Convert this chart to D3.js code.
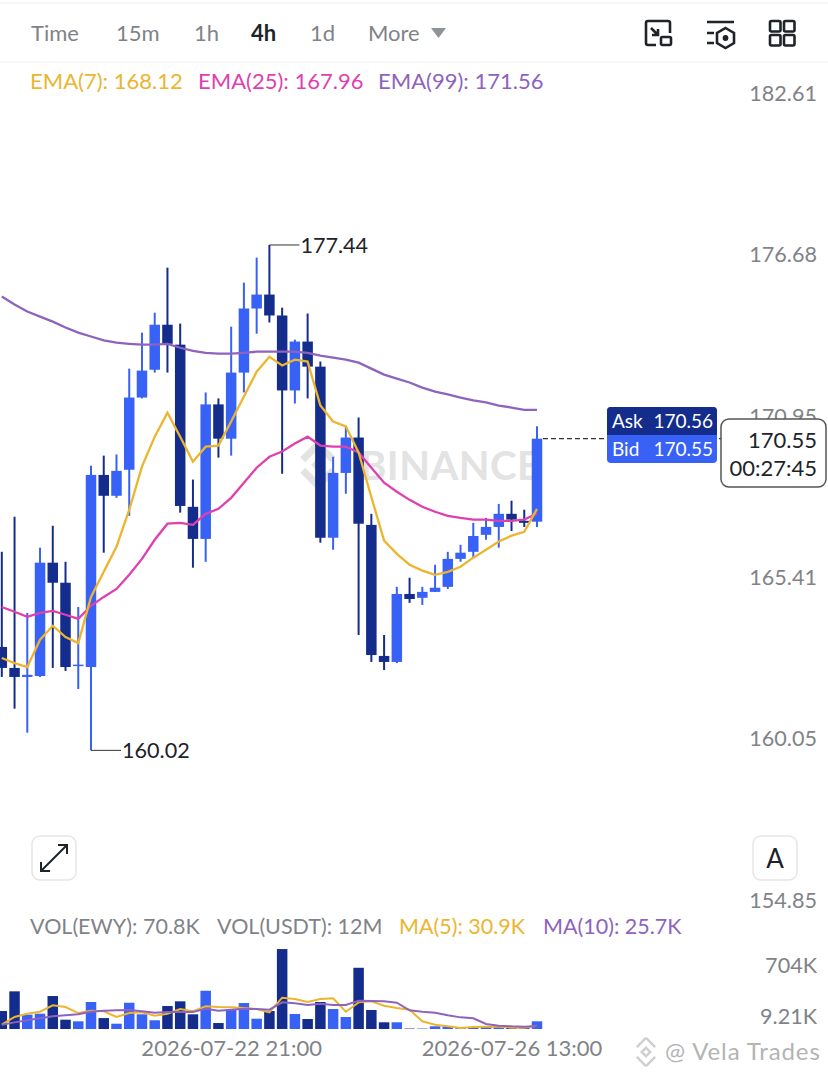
<!DOCTYPE html>
<html lang="en">
  <head>
    <meta charset="UTF-8" />
    <title>EWY 4h</title>
    <script src="https://cdn.jsdelivr.net/npm/d3@7"></script>
    <style>
      * {
        margin: 0;
        padding: 0;
      }
      body {
        background: #fff;
        overflow: hidden;
      }
      svg {
        display: block;
      }
      text {
        font-family: Lato, sans-serif;
      }
    </style>
  </head>
  <body>
    <div id="container"></div>
    <script>
      // 4h candles, oldest first
      const open = [163.44, 162.74, 162.44, 162.47, 166.28, 165.6, 162.81, 162.77, 169.29, 168.57, 169.47, 171.99, 172.97, 174.57, 173.86, 168.19, 167.09, 171.75, 170.55, 172.87, 175.15, 175.65, 174.9, 172.24, 173.97, 173.08, 167.13, 169.36, 170.59, 167.57, 163.14, 162.94, 165.22, 165.09, 165.29, 165.46, 166.41, 166.65, 167.23, 167.5, 167.95, 167.71, 167.68];
      const high = [166.65, 167.85, 164.58, 166.79, 167.54, 166.31, 164.78, 169.61, 169.96, 170.0, 173.01, 174.29, 175.0, 176.62, 174.61, 169.13, 172.17, 171.96, 174.5, 176.08, 176.98, 177.44, 175.18, 174.04, 174.97, 173.26, 169.92, 170.98, 171.29, 167.95, 163.84, 165.46, 165.77, 165.46, 166.21, 166.65, 166.89, 167.64, 167.81, 168.29, 168.4, 168.09, 170.98];
      const low = [162.44, 161.39, 160.6, 162.44, 162.74, 162.64, 162.04, 160.02, 166.62, 168.5, 167.88, 171.96, 172.87, 172.87, 167.99, 166.11, 166.31, 169.89, 169.96, 172.17, 174.25, 174.65, 169.33, 171.78, 171.96, 166.96, 166.72, 168.64, 163.84, 162.94, 162.67, 162.9, 164.92, 164.85, 165.29, 165.39, 166.31, 166.45, 167.06, 166.79, 167.36, 167.5, 167.5];
      const close = [162.74, 162.44, 162.51, 166.28, 165.6, 162.77, 162.85, 169.29, 168.57, 169.43, 171.99, 172.94, 174.57, 173.89, 168.22, 167.09, 171.75, 170.55, 172.87, 175.15, 175.65, 174.9, 172.24, 173.97, 173.08, 167.13, 169.36, 170.59, 167.61, 163.17, 162.94, 165.22, 165.05, 165.29, 165.43, 166.41, 166.62, 167.19, 167.5, 167.95, 167.75, 167.64, 170.55];

      const ema7 = [163.07, 162.9, 162.77, 163.68, 164.15, 163.77, 163.57, 165.12, 165.97, 166.82, 168.09, 169.58, 170.62, 171.46, 170.62, 169.75, 170.27, 170.31, 171.15, 172.03, 172.9, 173.43, 173.12, 173.33, 173.26, 171.71, 171.15, 170.98, 170.07, 168.53, 167.03, 166.58, 166.21, 166.01, 165.87, 165.97, 166.14, 166.45, 166.72, 167.0, 167.2, 167.33, 168.12];
      const ema25 = [164.78, 164.62, 164.45, 164.58, 164.65, 164.52, 164.38, 164.82, 165.12, 165.39, 165.87, 166.41, 167.06, 167.61, 167.64, 167.57, 167.95, 168.12, 168.5, 169.02, 169.54, 169.92, 170.1, 170.38, 170.62, 170.31, 170.27, 170.27, 170.07, 169.54, 169.02, 168.71, 168.43, 168.19, 168.02, 167.88, 167.81, 167.75, 167.75, 167.71, 167.71, 167.75, 167.96];
      const ema99 = [175.58, 175.29, 175.04, 174.86, 174.68, 174.47, 174.29, 174.15, 174.01, 173.93, 173.89, 173.86, 173.86, 173.89, 173.75, 173.64, 173.57, 173.54, 173.54, 173.57, 173.61, 173.61, 173.61, 173.61, 173.57, 173.47, 173.4, 173.33, 173.22, 173.01, 172.8, 172.66, 172.52, 172.34, 172.2, 172.1, 171.99, 171.89, 171.82, 171.71, 171.64, 171.56, 171.56];

      // volume, thousands
      const volume = [241, 505, 192, 205, 442, 125, 103, 362, 147, 71, 352, 197, 117, 308, 371, 197, 513, 80, 268, 348, 138, 241, 1072, 201, 134, 362, 268, 161, 821, 255, 90, 90, 6, 6, 36, 36, 11, 27, 27, 27, 27, 11, 103];
      const ma5 = [58, 161, 205, 232, 317, 295, 214, 246, 237, 161, 214, 223, 179, 205, 268, 237, 304, 295, 290, 281, 268, 223, 420, 402, 362, 402, 411, 232, 357, 371, 313, 281, 259, 103, 58, 36, 13, 27, 31, 31, 18, 18, 45];
      const ma10 = [58, 89, 116, 143, 170, 183, 197, 232, 246, 250, 255, 237, 219, 228, 228, 228, 272, 246, 259, 272, 268, 259, 357, 344, 322, 339, 322, 322, 380, 375, 371, 353, 250, 232, 219, 183, 156, 143, 67, 45, 36, 31, 40];

      const priceTicks = [182.61, 176.68, 170.95, 165.41, 160.05, 154.85];
      const volumeTicks = [704, 9.21];
      const timeTicks = ['2026-07-22T21:00Z', '2026-07-26T13:00Z'];
      const tabs = ['Time', '15m', '1h', '4h', '1d', 'More'];
      const tabX = [31, 116, 194, 251, 310, 368];

      const width = 828;
      const height = 1078;
      const candleWidth = 10.5;
      const gray = '#7f8388';
      const upColor = '#3861f5';
      const downColor = '#142d8c';
      const yellow = '#ecb52e';
      const pink = '#e03fb0';
      const purple = '#8e63be';

      const times = d3.utcHour.range(
        new Date('2026-07-19T21:00Z'),
        new Date('2026-07-26T22:00Z'),
        4
      );
      const candles = times.map((t, i) => ({
        t,
        o: open[i],
        h: high[i],
        l: low[i],
        c: close[i],
        v: volume[i],
      }));
      const colorOf = (d) => (d.c >= d.o ? upColor : downColor);

      const x = d3
        .scaleUtc()
        .domain([times[0], times[times.length - 1]])
        .range([1.8, 537]);
      const y = d3.scaleLog().domain([154.85, 182.61]).range([911, 104.5]);
      const yVol = d3.scaleLinear().domain([0, 704]).range([1029, 976.5]);

      const svg = d3
        .select('#container')
        .append('svg')
        .attr('width', width)
        .attr('height', height);

      // header
      svg
        .append('line')
        .attr('x1', 0)
        .attr('x2', width)
        .attr('y1', 3)
        .attr('y2', 3)
        .attr('stroke', '#eeeeee');
      svg
        .append('line')
        .attr('x1', 0)
        .attr('x2', width)
        .attr('y1', 62)
        .attr('y2', 62)
        .attr('stroke', '#f0f0f0');
      svg
        .append('g')
        .selectAll('text')
        .data(tabs)
        .join('text')
        .attr('x', (d, i) => tabX[i])
        .attr('y', 41)
        .attr('font-size', 22)
        .attr('font-weight', (d) => (d == '4h' ? 700 : 400))
        .attr('fill', (d) => (d == '4h' ? '#1e2329' : gray))
        .text((d) => d);
      svg.append('path').attr('d', 'M431 28H446L438.5 38Z').attr('fill', '#8f9399');

      // toolbar icons
      const icons = svg
        .append('g')
        .attr('fill', 'none')
        .attr('stroke', '#1e2329')
        .attr('stroke-width', 2.6);
      icons.append('path').attr('d', 'M656 45H648Q646 45 646 43V23Q646 21 648 21H668Q670 21 670 23V33');
      icons.append('rect').attr('x', 661).attr('y', 37).attr('width', 10).attr('height', 8).attr('rx', 1.5);
      icons.append('path').attr('d', 'M651 28L658 35M658 29V35H652');
      icons.append('path').attr('d', 'M707 22H734M707 33H714M707 43H714');
      icons.append('path').attr('d', 'M725.5 28L734 33V43L725.5 48L717 43V33Z');
      icons.append('circle').attr('cx', 725.5).attr('cy', 38).attr('r', 1.6).attr('fill', '#1e2329');
      icons
        .selectAll('rect.cell')
        .data([[770, 21], [784, 21], [770, 35], [784, 35]])
        .join('rect')
        .attr('class', 'cell')
        .attr('x', (d) => d[0])
        .attr('y', (d) => d[1])
        .attr('width', 10.5)
        .attr('height', 10.5)
        .attr('rx', 1.5);

      // binance watermark
      const mark = svg.append('g').attr('fill', '#e3e3e3');
      mark
        .append('g')
        .attr('transform', 'translate(318,465) rotate(45)')
        .selectAll('path')
        .data(['M-18 -18H7V-11H-11V7H-18Z', 'M18 18H-7V11H11V-7H18Z', 'M-5 -5H5V5H-5Z'])
        .join('path')
        .attr('d', (d) => d);
      mark
        .append('text')
        .attr('x', 360)
        .attr('y', 480)
        .attr('font-size', 40)
        .attr('font-weight', 700)
        .attr('letter-spacing', 0.5)
        .text('BINANCE');

      // price axis
      const priceAxis = svg
        .append('g')
        .attr('transform', 'translate(817,0)')
        .call(d3.axisLeft(y).tickValues(priceTicks).tickSize(0).tickPadding(0).tickFormat(d3.format('.2f')));
      priceAxis.select('.domain').remove();
      priceAxis
        .selectAll('text')
        .attr('dy', -4)
        .attr('font-size', 21.6)
        .attr('font-family', 'Lato, sans-serif')
        .attr('fill', gray);

      // volume axis
      const volAxis = svg
        .append('g')
        .attr('transform', 'translate(817,0)')
        .call(
          d3
            .axisLeft(yVol)
            .tickValues(volumeTicks)
            .tickSize(0)
            .tickPadding(0)
            .tickFormat((d) => d + 'K')
        );
      volAxis.select('.domain').remove();
      volAxis
        .selectAll('text')
        .attr('dy', -4.5)
        .attr('font-size', 21.6)
        .attr('font-family', 'Lato, sans-serif')
        .attr('fill', gray);

      // time axis
      const timeAxis = svg
        .append('g')
        .attr('transform', 'translate(0,1029)')
        .call(
          d3
            .axisBottom(x)
            .tickValues(timeTicks.map((d) => new Date(d)))
            .tickSize(0)
            .tickPadding(0)
            .tickFormat(d3.utcFormat('%Y-%m-%d %H:%M'))
        );
      timeAxis.select('.domain').remove();
      timeAxis
        .selectAll('text')
        .attr('dy', 27)
        .attr('font-size', 22)
        .attr('font-family', 'Lato, sans-serif')
        .attr('fill', gray);

      // wicks
      svg
        .append('g')
        .selectAll('line')
        .data(candles)
        .join('line')
        .attr('x1', (d) => x(d.t))
        .attr('x2', (d) => x(d.t))
        .attr('y1', (d) => y(d.h))
        .attr('y2', (d) => y(d.l))
        .attr('stroke', colorOf)
        .attr('stroke-width', 2);

      // bodies
      svg
        .append('g')
        .selectAll('rect')
        .data(candles)
        .join('rect')
        .attr('x', (d) => x(d.t) - candleWidth / 2)
        .attr('y', (d) => y(Math.max(d.o, d.c)))
        .attr('width', candleWidth)
        .attr('height', (d) => Math.max(1.5, Math.abs(y(d.o) - y(d.c))))
        .attr('fill', colorOf);

      // ema lines
      const priceLine = d3
        .line()
        .x((d, i) => x(times[i]))
        .y((d) => y(d));
      svg
        .append('g')
        .attr('fill', 'none')
        .attr('stroke-width', 2.3)
        .selectAll('path')
        .data([
          [ema99, purple],
          [ema25, pink],
          [ema7, yellow],
        ])
        .join('path')
        .attr('d', (d) => priceLine(d[0]))
        .attr('stroke', (d) => d[1]);

      // high / low markers
      const iHigh = d3.maxIndex(high);
      const iLow = d3.minIndex(low);
      const markers = [
        [times[iHigh], high[iHigh]],
        [times[iLow], low[iLow]],
      ];
      const markerG = svg.append('g').selectAll('g').data(markers).join('g');
      markerG
        .append('line')
        .attr('x1', (d) => x(d[0]))
        .attr('x2', (d) => x(d[0]) + 30)
        .attr('y1', (d) => y(d[1]))
        .attr('y2', (d) => y(d[1]))
        .attr('stroke', '#333');
      markerG
        .append('text')
        .attr('x', (d) => x(d[0]) + 31)
        .attr('y', (d) => y(d[1]) + 8)
        .attr('font-size', 21.6)
        .attr('fill', '#1e2329')
        .text((d) => d[1].toFixed(2));

      // ema legend
      svg
        .append('g')
        .selectAll('text')
        .data([
          ['EMA(7): 168.12', yellow, 30],
          ['EMA(25): 167.96', pink, 198],
          ['EMA(99): 171.56', purple, 378],
        ])
        .join('text')
        .attr('x', (d) => d[2])
        .attr('y', 89)
        .attr('font-size', 22)
        .attr('fill', (d) => d[1])
        .text((d) => d[0]);

      // last price line and tags
      const last = close[close.length - 1];
      svg
        .append('line')
        .attr('x1', x(times[times.length - 1]) + 6)
        .attr('x2', 721)
        .attr('y1', y(last))
        .attr('y2', y(last))
        .attr('stroke', '#333')
        .attr('stroke-width', 1.4)
        .attr('stroke-dasharray', '5 3');
      svg.append('rect').attr('x', 607).attr('y', 407).attr('width', 110).attr('height', 56).attr('rx', 4).attr('fill', upColor);
      svg.append('path').attr('d', 'M607 435V411Q607 407 611 407H713Q717 407 717 411V435Z').attr('fill', downColor);
      svg
        .append('g')
        .attr('fill', '#fff')
        .attr('font-size', 19)
        .selectAll('text')
        .data([
          ['Ask', 612, 428, 'start'],
          ['170.56', 713, 428, 'end'],
          ['Bid', 612, 456, 'start'],
          ['170.55', 713, 456, 'end'],
        ])
        .join('text')
        .attr('x', (d) => d[1])
        .attr('y', (d) => d[2])
        .attr('text-anchor', (d) => d[3])
        .text((d) => d[0]);
      svg
        .append('rect')
        .attr('x', 721)
        .attr('y', 419)
        .attr('width', 105)
        .attr('height', 68)
        .attr('rx', 8)
        .attr('fill', '#fff')
        .attr('stroke', '#555')
        .attr('stroke-width', 1.5);
      svg
        .append('g')
        .attr('fill', '#1e2329')
        .attr('font-size', 22)
        .attr('text-anchor', 'end')
        .selectAll('text')
        .data([
          ['170.55', 448],
          ['00:27:45', 476],
        ])
        .join('text')
        .attr('x', 817)
        .attr('y', (d) => d[1])
        .text((d) => d[0]);

      // buttons
      const btn = svg
        .append('g')
        .attr('fill', '#fff')
        .attr('stroke', '#e6e6e6')
        .attr('stroke-width', 1.5);
      btn.append('rect').attr('x', 32).attr('y', 836).attr('width', 44).attr('height', 44).attr('rx', 8);
      btn.append('rect').attr('x', 753).attr('y', 836).attr('width', 44).attr('height', 44).attr('rx', 8);
      svg
        .append('path')
        .attr('d', 'M41 871L67 845M58 845H67V854M41 862V871H50')
        .attr('fill', 'none')
        .attr('stroke', '#1e2329')
        .attr('stroke-width', 2);
      svg
        .append('text')
        .attr('x', 775)
        .attr('y', 868)
        .attr('text-anchor', 'middle')
        .attr('font-size', 26)
        .attr('fill', '#1e2329')
        .text('A');

      // volume legend
      svg
        .append('g')
        .selectAll('text')
        .data([
          ['VOL(EWY): 70.8K', gray, 30],
          ['VOL(USDT): 12M', gray, 217],
          ['MA(5): 30.9K', yellow, 399],
          ['MA(10): 25.7K', purple, 543],
        ])
        .join('text')
        .attr('x', (d) => d[2])
        .attr('y', 934)
        .attr('font-size', 21.5)
        .attr('fill', (d) => d[1])
        .text((d) => d[0]);

      // volume bars
      svg
        .append('g')
        .selectAll('rect')
        .data(candles)
        .join('rect')
        .attr('x', (d) => x(d.t) - candleWidth / 2)
        .attr('y', (d) => yVol(d.v))
        .attr('width', candleWidth)
        .attr('height', (d) => yVol(0) - yVol(d.v))
        .attr('fill', colorOf);

      const volLine = d3
        .line()
        .x((d, i) => x(times[i]))
        .y((d) => yVol(d));
      svg
        .append('g')
        .attr('fill', 'none')
        .attr('stroke-width', 2)
        .selectAll('path')
        .data([
          [ma5, yellow],
          [ma10, purple],
        ])
        .join('path')
        .attr('d', (d) => volLine(d[0]))
        .attr('stroke', (d) => d[1]);

      // footer watermark
      svg
        .append('g')
        .attr('transform', 'translate(646,1052) rotate(45)')
        .attr('fill', 'none')
        .attr('stroke', '#d0d0d0')
        .attr('stroke-width', 2.5)
        .selectAll('path')
        .data(['M-10 -10H3M-10 -10V3', 'M10 10H-3M10 10V-3', 'M-3 -3H3V3H-3Z'])
        .join('path')
        .attr('d', (d) => d);
      svg
        .append('text')
        .attr('x', 665)
        .attr('y', 1060)
        .attr('font-size', 24)
        .attr('letter-spacing', 0.9)
        .attr('fill', '#b4b4b4')
        .text('@ Vela Trades');
    </script>
  </body>
</html>
